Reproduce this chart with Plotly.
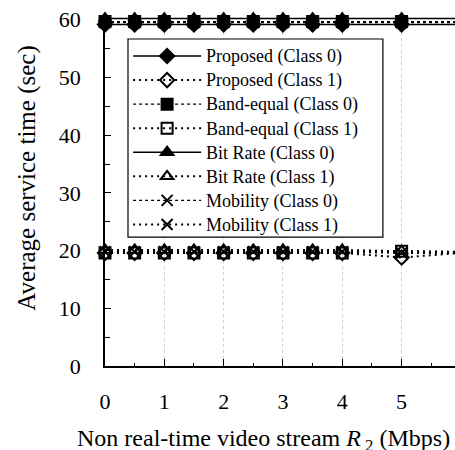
import plotly.graph_objects as go

# Non real-time video stream rate R2 (Mbps)
r2_mbps = [0, 0.5, 1, 1.5, 2, 2.5, 3, 3.5, 4, 5, 6]

# Average service time (sec), class 0
proposed_c0 = [59.2, 59.2, 59.2, 59.2, 59.2, 59.2, 59.2, 59.2, 59.2, 59.2, 59.2]
band_equal_c0 = [59.7, 59.7, 59.7, 59.7, 59.7, 59.7, 59.7, 59.7, 59.7, 59.7, 59.7]
bit_rate_c0 = [60.2, 60.2, 60.2, 60.2, 60.2, 60.2, 60.2, 60.2, 60.2, 60.2, 60.2]
mobility_c0 = [59.5, 59.5, 59.5, 59.5, 59.5, 59.5, 59.5, 59.5, 59.5, 59.5, 59.5]

# Average service time (sec), class 1
proposed_c1 = [19.6, 19.6, 19.6, 19.6, 19.6, 19.6, 19.6, 19.6, 19.6, 18.8, 19.6]
band_equal_c1 = [19.6, 19.6, 19.6, 19.6, 19.6, 19.6, 19.6, 19.6, 19.6, 19.9, 19.7]
bit_rate_c1 = [20.1, 20.1, 20.1, 20.1, 20.1, 20.1, 20.1, 20.1, 20.1, 19.9, 19.8]
mobility_c1 = [19.8, 19.8, 19.8, 19.8, 19.8, 19.8, 19.8, 19.8, 19.8, 19.6, 19.6]

x_ticks = [0, 1, 2, 3, 4, 5, 6]
y_ticks = [0, 10, 20, 30, 40, 50, 60]

FONT = "Liberation Serif"

series = [
    ("Proposed (Class 0)", proposed_c0, "diamond", "solid", 1.5),
    ("Proposed (Class 1)", proposed_c1, "diamond-open", "2px,4px", 2),
    ("Band-equal (Class 0)", band_equal_c0, "square", "dot", 1.2),
    ("Band-equal (Class 1)", band_equal_c1, "square-open", "2px,4px", 2),
    ("Bit Rate (Class 0)", bit_rate_c0, "triangle-up", "solid", 1.5),
    ("Bit Rate (Class 1)", bit_rate_c1, "triangle-up-open", "2px,4px", 2),
    ("Mobility (Class 0)", mobility_c0, "x-thin-open", "dot", 1.2),
    ("Mobility (Class 1)", mobility_c1, "x-thin-open", "2px,4px", 2),
]

fig = go.Figure()
for name, values, symbol, dash, lw in series:
    fig.add_trace(go.Scatter(
        x=r2_mbps, y=values,
        # rows are spaced by the legend font size; the label itself is set larger
        name=f'<span style="font-size:18px">{name}</span>',
        mode="lines+markers",
        line=dict(color="black", width=lw, dash=dash),
        marker=dict(symbol=symbol, size=11, color="black",
                    line=dict(color="black", width=2)),
        cliponaxis=False,
    ))

# white framed panel behind the legend entries
legend_box = dict(type="rect", xref="paper", yref="paper",
                  x0=0.0657, x1=0.794, y0=0.366, y1=0.929,
                  line=dict(color="black", width=1.2), fillcolor="white",
                  layer="above")

fig.update_layout(
    width=455, height=450,
    margin=dict(l=105, r=0, t=14, b=84),
    paper_bgcolor="white", plot_bgcolor="white",
    font=dict(family=FONT, size=22, color="black"),
    showlegend=True,
    shapes=[legend_box],
    legend=dict(
        x=0.066, y=0.929, xanchor="left", yanchor="top",
        bgcolor="rgba(0,0,0,0)", borderwidth=0,
        font=dict(family=FONT, size=16.2, color="black"),
        itemwidth=68, tracegroupgap=0,
    ),
    annotations=[
        dict(text="Non real-time video stream <i>R</i><sub> 2</sub> (Mbps)",
             xref="paper", yref="paper", x=0.454, y=-0.21,
             xanchor="center", yanchor="middle", showarrow=False,
             font=dict(family=FONT, size=24, color="black")),
        dict(text="Average service time (sec)",
             xref="paper", yref="paper", x=-0.223, y=0.535,
             xanchor="center", yanchor="middle", showarrow=False,
             textangle=-90,
             font=dict(family=FONT, size=25, color="black")),
    ],
)

fig.update_xaxes(
    range=[0, 5.9], tickvals=x_ticks,
    showline=True, linecolor="black", linewidth=1.5,
    ticks="inside", ticklen=7, tickcolor="black", tickwidth=1.2,
    ticklabelstandoff=15,
    showgrid=True, gridcolor="#cfcfcf", griddash="dot", gridwidth=1,
    minor=dict(dtick=0.5, ticks="inside", ticklen=3, tickcolor="black", showgrid=False),
    zeroline=False,
)
fig.update_yaxes(
    range=[0, 61], tickvals=y_ticks,
    showline=True, linecolor="black", linewidth=1.5,
    ticks="inside", ticklen=6, tickcolor="black", tickwidth=1.2,
    ticklabelstandoff=18,
    showgrid=False,
    minor=dict(dtick=5, ticks="inside", ticklen=5, tickcolor="black", showgrid=False),
    zeroline=False,
)

fig.write_html("out.html")
